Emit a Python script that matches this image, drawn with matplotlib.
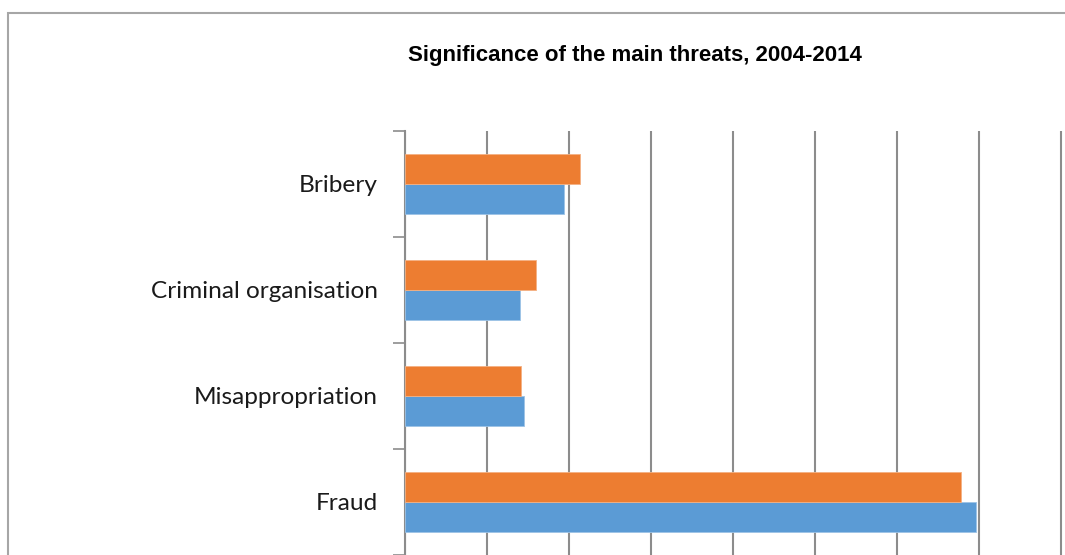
import numpy as np
import matplotlib.pyplot as plt
from matplotlib.patches import Rectangle

# data (gridline step = 5)
categories = ["Fraud", "Misappropriation", "Criminal organisation", "Bribery"]
series_blue = [34.8, 7.25, 7.0, 9.7]
series_orange = [33.9, 7.05, 8.0, 10.7]
x_ticks = np.arange(0, 45, 5)

blue = "#5B9BD5"
orange = "#ED7D31"
grid_col = "#8C8C8C"

fig = plt.figure(figsize=(10.65, 5.55), dpi=100)

# outer chart frame (cropped at right and bottom)
frame = Rectangle((8 / 1065, -0.1), 1.2, 1.1 - 12.5 / 555, transform=fig.transFigure,
                  fill=False, edgecolor="#A6A6A6", linewidth=1.5, zorder=0)
fig.patches.append(frame)

ax = fig.add_axes([405 / 1065, 0.0, 1 - 405 / 1065, (555 - 131) / 555])

y = np.arange(len(categories))
h = 0.285
ax.barh(y - h / 2, series_blue, height=h, color=blue, edgecolor="#9DC3E6", linewidth=0.6, zorder=3)
ax.barh(y + h / 2, series_orange, height=h, color=orange, edgecolor="#F4B183", linewidth=0.6, zorder=3)

ax.set_xlim(0, 660 / 82 * 5)
ax.set_ylim(-0.5, 3.5)
ax.set_xticks(x_ticks)
ax.tick_params(axis="x", length=0, labelbottom=False)
ax.xaxis.grid(True, color=grid_col, linewidth=1.5, zorder=0)

ax.set_yticks(y)
ax.set_yticklabels(categories, family="Lato", fontsize=17.6, color="#1a1a1a")
ax.set_yticks(np.arange(-0.5, 3.6, 1.0), minor=True)
ax.tick_params(axis="y", which="major", length=0, pad=19.5)
ax.tick_params(axis="y", which="minor", length=9, width=1.2, color=grid_col)

for s in ["top", "right", "bottom"]:
    ax.spines[s].set_visible(False)
ax.spines["left"].set_color(grid_col)
ax.spines["left"].set_linewidth(1.5)

fig.text(635 / 1065, 1 - 56 / 555, "Significance of the main threats, 2004-2014",
         ha="center", va="center", fontsize=16, fontweight="bold", family="Liberation Sans")

fig.savefig("out.png", dpi=100)
